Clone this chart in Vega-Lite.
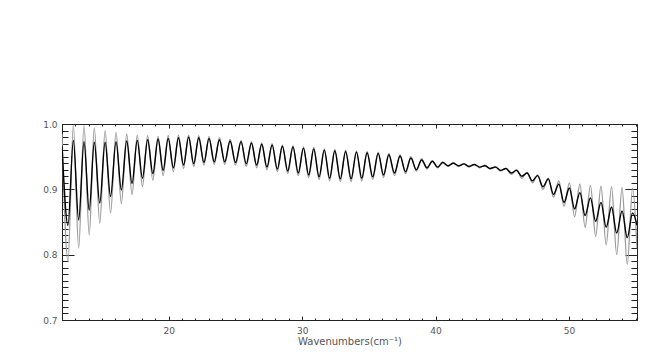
{
  "$schema": "https://vega.github.io/schema/vega-lite/v6.json",
  "width": 575,
  "height": 196,
  "autosize": {"type": "none"},
  "padding": {"left": 62, "top": 124, "right": 17, "bottom": 34},
  "background": "white",
  "config": {
    "view": {"stroke": null},
    "axis": {"labelFont": "DejaVu Sans", "titleFont": "DejaVu Sans", "labelColor": "#555", "titleColor": "#555", "domainColor": "#222", "tickColor": "#222", "grid": false, "domainWidth": 1, "tickWidth": 1, "labelOverlap": false, "labelFlush": false}
  },
  "data": {"values": [
    {"x": 12.00, "g": 0.985, "b": 0.967},
    {"x": 12.45, "g": 0.790, "b": 0.845},
    {"x": 12.85, "g": 0.998, "b": 0.975},
    {"x": 13.25, "g": 0.810, "b": 0.853},
    {"x": 13.65, "g": 0.998, "b": 0.973},
    {"x": 14.04, "g": 0.830, "b": 0.868},
    {"x": 14.42, "g": 0.994, "b": 0.972},
    {"x": 14.83, "g": 0.848, "b": 0.879},
    {"x": 15.23, "g": 0.990, "b": 0.972},
    {"x": 15.64, "g": 0.864, "b": 0.889},
    {"x": 16.05, "g": 0.987, "b": 0.973},
    {"x": 16.45, "g": 0.878, "b": 0.899},
    {"x": 16.85, "g": 0.985, "b": 0.974},
    {"x": 17.25, "g": 0.892, "b": 0.909},
    {"x": 17.64, "g": 0.983, "b": 0.975},
    {"x": 18.03, "g": 0.904, "b": 0.917},
    {"x": 18.42, "g": 0.982, "b": 0.976},
    {"x": 18.81, "g": 0.914, "b": 0.924},
    {"x": 19.20, "g": 0.981, "b": 0.977},
    {"x": 19.58, "g": 0.921, "b": 0.929},
    {"x": 19.96, "g": 0.982, "b": 0.978},
    {"x": 20.35, "g": 0.927, "b": 0.933},
    {"x": 20.73, "g": 0.983, "b": 0.979},
    {"x": 21.11, "g": 0.932, "b": 0.937},
    {"x": 21.49, "g": 0.983, "b": 0.980},
    {"x": 21.87, "g": 0.935, "b": 0.939},
    {"x": 22.25, "g": 0.982, "b": 0.979},
    {"x": 22.64, "g": 0.937, "b": 0.941},
    {"x": 23.02, "g": 0.981, "b": 0.978},
    {"x": 23.41, "g": 0.938, "b": 0.942},
    {"x": 23.80, "g": 0.979, "b": 0.976},
    {"x": 24.20, "g": 0.938, "b": 0.942},
    {"x": 24.60, "g": 0.977, "b": 0.974},
    {"x": 25.01, "g": 0.937, "b": 0.941},
    {"x": 25.42, "g": 0.975, "b": 0.973},
    {"x": 25.81, "g": 0.935, "b": 0.939},
    {"x": 26.20, "g": 0.973, "b": 0.971},
    {"x": 26.59, "g": 0.933, "b": 0.937},
    {"x": 26.97, "g": 0.971, "b": 0.969},
    {"x": 27.36, "g": 0.930, "b": 0.934},
    {"x": 27.75, "g": 0.970, "b": 0.968},
    {"x": 28.14, "g": 0.927, "b": 0.931},
    {"x": 28.52, "g": 0.968, "b": 0.966},
    {"x": 28.92, "g": 0.924, "b": 0.928},
    {"x": 29.31, "g": 0.967, "b": 0.965},
    {"x": 29.71, "g": 0.921, "b": 0.925},
    {"x": 30.10, "g": 0.965, "b": 0.963},
    {"x": 30.49, "g": 0.918, "b": 0.922},
    {"x": 30.87, "g": 0.964, "b": 0.962},
    {"x": 31.27, "g": 0.915, "b": 0.919},
    {"x": 31.66, "g": 0.962, "b": 0.960},
    {"x": 32.06, "g": 0.913, "b": 0.917},
    {"x": 32.45, "g": 0.961, "b": 0.959},
    {"x": 32.86, "g": 0.912, "b": 0.916},
    {"x": 33.26, "g": 0.960, "b": 0.958},
    {"x": 33.67, "g": 0.912, "b": 0.916},
    {"x": 34.07, "g": 0.959, "b": 0.957},
    {"x": 34.47, "g": 0.913, "b": 0.917},
    {"x": 34.87, "g": 0.958, "b": 0.956},
    {"x": 35.29, "g": 0.915, "b": 0.919},
    {"x": 35.70, "g": 0.957, "b": 0.955},
    {"x": 36.10, "g": 0.918, "b": 0.922},
    {"x": 36.50, "g": 0.955, "b": 0.953},
    {"x": 36.92, "g": 0.921, "b": 0.925},
    {"x": 37.34, "g": 0.953, "b": 0.951},
    {"x": 37.75, "g": 0.924, "b": 0.927},
    {"x": 38.15, "g": 0.950, "b": 0.948},
    {"x": 38.56, "g": 0.928, "b": 0.930},
    {"x": 38.96, "g": 0.947, "b": 0.945},
    {"x": 39.36, "g": 0.931, "b": 0.933},
    {"x": 39.76, "g": 0.944, "b": 0.943},
    {"x": 40.15, "g": 0.933, "b": 0.934},
    {"x": 40.54, "g": 0.942, "b": 0.941},
    {"x": 40.94, "g": 0.935, "b": 0.936},
    {"x": 41.33, "g": 0.941, "b": 0.940},
    {"x": 41.72, "g": 0.935, "b": 0.936},
    {"x": 42.12, "g": 0.939, "b": 0.939},
    {"x": 42.51, "g": 0.934, "b": 0.935},
    {"x": 42.91, "g": 0.938, "b": 0.938},
    {"x": 43.30, "g": 0.933, "b": 0.934},
    {"x": 43.70, "g": 0.937, "b": 0.936},
    {"x": 44.09, "g": 0.931, "b": 0.932},
    {"x": 44.49, "g": 0.935, "b": 0.934},
    {"x": 44.88, "g": 0.928, "b": 0.929},
    {"x": 45.28, "g": 0.932, "b": 0.932},
    {"x": 45.68, "g": 0.923, "b": 0.925},
    {"x": 46.07, "g": 0.930, "b": 0.929},
    {"x": 46.47, "g": 0.917, "b": 0.920},
    {"x": 46.86, "g": 0.926, "b": 0.925},
    {"x": 47.26, "g": 0.910, "b": 0.913},
    {"x": 47.65, "g": 0.922, "b": 0.921},
    {"x": 48.05, "g": 0.900, "b": 0.904},
    {"x": 48.45, "g": 0.917, "b": 0.916},
    {"x": 48.84, "g": 0.888, "b": 0.892},
    {"x": 49.24, "g": 0.913, "b": 0.908},
    {"x": 49.63, "g": 0.874, "b": 0.880},
    {"x": 50.03, "g": 0.910, "b": 0.902},
    {"x": 50.42, "g": 0.858, "b": 0.870},
    {"x": 50.82, "g": 0.908, "b": 0.895},
    {"x": 51.21, "g": 0.842, "b": 0.860},
    {"x": 51.61, "g": 0.906, "b": 0.887},
    {"x": 52.00, "g": 0.828, "b": 0.851},
    {"x": 52.40, "g": 0.905, "b": 0.880},
    {"x": 52.79, "g": 0.815, "b": 0.842},
    {"x": 53.19, "g": 0.904, "b": 0.873},
    {"x": 53.58, "g": 0.800, "b": 0.833},
    {"x": 53.98, "g": 0.903, "b": 0.867},
    {"x": 54.37, "g": 0.785, "b": 0.826},
    {"x": 54.77, "g": 0.902, "b": 0.864},
    {"x": 55.10, "g": 0.810, "b": 0.845}
  ]},
  "layer": [
    {
      "mark": {"type": "line", "interpolate": "monotone", "color": "#9a9a9a", "strokeWidth": 1.3, "clip": true},
      "encoding": {
        "x": {"field": "x", "type": "quantitative", "scale": {"domain": [12, 55.1], "nice": false, "zero": false},
          "axis": {"orient": "bottom", "values": [12,13,14,15,16,17,18,19,21,22,23,24,25,26,27,28,29,31,32,33,34,35,36,37,38,39,41,42,43,44,45,46,47,48,49,51,52,53,54,55],
            "tickSize": -2, "labels": false, "title": null}},
        "y": {"field": "g", "type": "quantitative", "scale": {"domain": [0.7, 1.0], "nice": false, "zero": false},
          "axis": {"orient": "left", "values": [0.71,0.72,0.73,0.74,0.75,0.76,0.77,0.78,0.79,0.81,0.82,0.83,0.84,0.85,0.86,0.87,0.88,0.89,0.91,0.92,0.93,0.94,0.95,0.96,0.97,0.98,0.99],
            "tickSize": -6, "labels": false, "title": null}}
      }
    },
    {
      "mark": {"type": "line", "interpolate": "monotone", "color": "#000000", "strokeWidth": 1.4, "clip": true},
      "encoding": {
        "x": {"field": "x", "type": "quantitative", "scale": {"domain": [12, 55.1], "nice": false, "zero": false},
          "axis": {"orient": "top", "values": [12,13,14,15,16,17,18,19,21,22,23,24,25,26,27,28,29,31,32,33,34,35,36,37,38,39,41,42,43,44,45,46,47,48,49,51,52,53,54,55],
            "tickSize": -2, "labels": false, "title": null}},
        "y": {"field": "b", "type": "quantitative", "scale": {"domain": [0.7, 1.0], "nice": false, "zero": false},
          "axis": {"orient": "right", "values": [0.71,0.72,0.73,0.74,0.75,0.76,0.77,0.78,0.79,0.81,0.82,0.83,0.84,0.85,0.86,0.87,0.88,0.89,0.91,0.92,0.93,0.94,0.95,0.96,0.97,0.98,0.99],
            "tickSize": -6, "labels": false, "title": null}}
      }
    },
    {
      "mark": {"type": "line", "strokeOpacity": 0, "clip": true},
      "encoding": {
        "x": {"field": "x", "type": "quantitative", "scale": {"domain": [12, 55.1], "nice": false, "zero": false},
          "axis": {"orient": "bottom", "values": [20, 30, 40, 50], "format": "d", "domain": false,
            "tickSize": -4, "labelPadding": 10, "labelFontSize": 9,
            "title": "Wavenumbers(cm⁻¹)", "titleFontSize": 10, "titleFontWeight": "normal", "titlePadding": 1}},
        "y": {"field": "g", "type": "quantitative", "scale": {"domain": [0.7, 1.0], "nice": false, "zero": false},
          "axis": {"orient": "left", "values": [0.7, 0.8, 0.9, 1.0], "format": ".1f", "domain": false,
            "tickSize": -12, "labelPadding": 17, "labelFontSize": 9, "title": null}}
      }
    },
    {
      "mark": {"type": "line", "strokeOpacity": 0, "clip": true},
      "encoding": {
        "x": {"field": "x", "type": "quantitative", "scale": {"domain": [12, 55.1], "nice": false, "zero": false},
          "axis": {"orient": "top", "values": [20, 30, 40, 50], "domain": false, "tickSize": -4, "labels": false, "title": null}},
        "y": {"field": "b", "type": "quantitative", "scale": {"domain": [0.7, 1.0], "nice": false, "zero": false},
          "axis": {"orient": "right", "values": [0.7, 0.8, 0.9, 1.0], "domain": false, "tickSize": -12, "labels": false, "title": null}}
      }
    }
  ],
  "resolve": {"scale": {"x": "independent", "y": "independent"}, "axis": {"x": "independent", "y": "independent"}}
}
